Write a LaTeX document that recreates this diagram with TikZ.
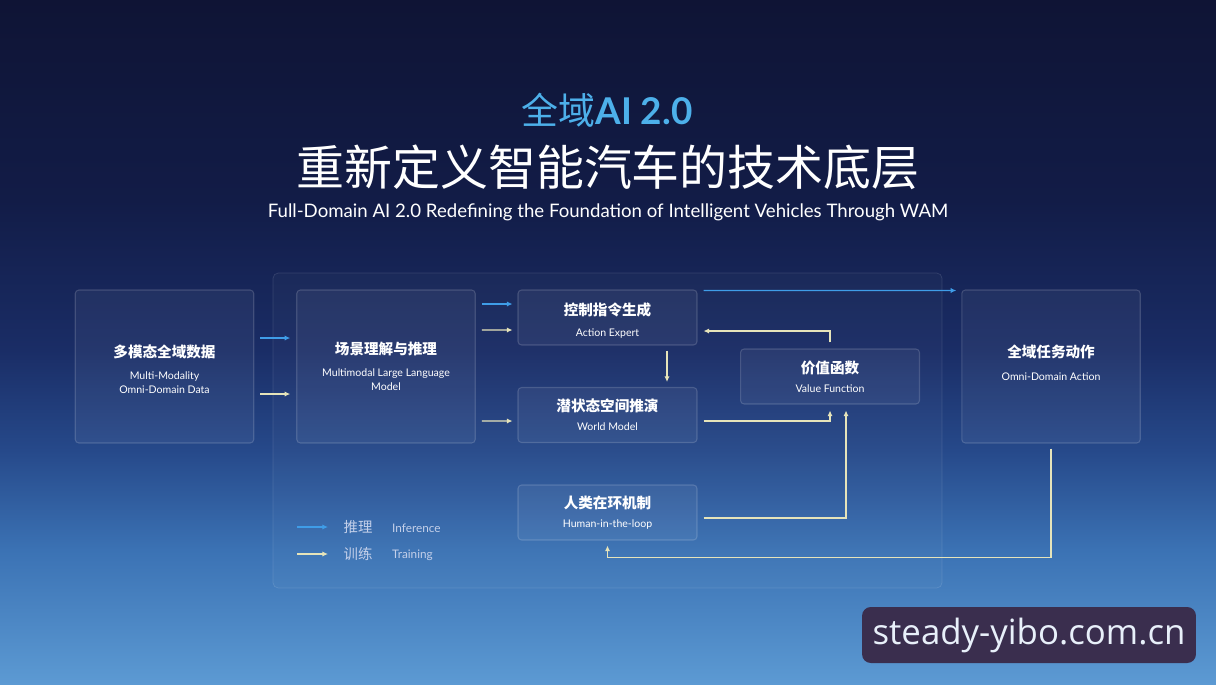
\documentclass[tikz,border=0pt]{standalone}
\usepackage{fontspec}
\setmainfont{Lato}
\newfontfamily\cjk{Noto Sans CJK SC}
\newfontfamily\sitefont{Open Sans}
\usetikzlibrary{arrows.meta,calc}

\definecolor{bgtop}{HTML}{0F1435}
\definecolor{bgupper}{HTML}{121C47}
\definecolor{bghigh}{HTML}{1A2D66}
\definecolor{bgmid}{HTML}{26498A}
\definecolor{bglow}{HTML}{3B72B4}
\definecolor{bgbot}{HTML}{5C9AD3}
\definecolor{titleblue}{HTML}{4DB0EA}
\definecolor{infblue}{HTML}{3F9DE8}
\definecolor{trcream}{HTML}{E6E4BA}
\definecolor{legtext}{HTML}{C4D0EA}
\definecolor{sitebg}{HTML}{3A2E4E}
\definecolor{sitetext}{HTML}{E8F0FA}

\pgfdeclareverticalshading{bgshade}{100bp}{color(0bp)=(bgbot); color(25bp)=(bgbot);
  color(34.8bp)=(bglow); color(42.1bp)=(bgmid); color(49.4bp)=(bghigh);
  color(60.4bp)=(bgupper); color(75bp)=(bgtop); color(100bp)=(bgtop)}

\tikzset{
  box/.style={draw=white, draw opacity=0.16, fill=white, fill opacity=0.05,
    text opacity=1, text=white, rounded corners=2pt, line width=0.6pt,
    align=center, inner sep=0pt, font=\fontsize{6}{8}\selectfont},
  bigbox/.style={box, minimum width=3.57cm, minimum height=3.06cm},
  smallbox/.style={box, minimum width=3.58cm, minimum height=1.1cm},
  infer/.style={draw=infblue, line width=0.75pt, -{Latex[length=3.2pt,width=3pt]}},
  train/.style={draw=trcream, line width=0.75pt, -{Latex[length=3.2pt,width=3pt]}},
  legcn/.style={text=legtext, font=\cjk\fontsize{8.2}{10}\selectfont},
  legen/.style={text=legtext, font=\fontsize{6.7}{8}\selectfont, anchor=west}
}
\newcommand{\cnhead}[1]{{\cjk\bfseries\fontsize{8.3}{10}\selectfont #1}}

\begin{document}
\begin{tikzpicture}[x=0.02cm,y=-0.02cm]
    \useasboundingbox (0,0) rectangle (1216,684);
    \shade[shading=bgshade] (0,0) rectangle (1216,684);

    % header
    \node[text=titleblue, font=\fontsize{21}{24}\selectfont] (kicker) at (607,110) {{\cjk 全域}\textbf{AI 2.0}};
    \node[text=white, font=\cjk\fontsize{27.3}{30}\selectfont] (title) at (608,167) {重新定义智能汽车的技术底层};
    \node[text=white, font=\fontsize{10.6}{12}\selectfont] (subtitle) at (608,212) {Full-Domain AI 2.0 Redefining the Foundation of Intelligent Vehicles Through WAM};

    % inner frame
    \draw[draw=white, draw opacity=0.12, fill=white, fill opacity=0.025, rounded corners=3pt] (273,273) rectangle (942,588);

    % blocks
    \node[bigbox] (data) at (164.5,366.5) {\rule{0pt}{10.7pt}\cnhead{多模态全域数据}\\[4.5pt]Multi-Modality\\Omni-Domain Data};
    \node[bigbox] (mllm) at (386,366.5) {\cnhead{场景理解与推理}\\[4.5pt]Multimodal Large Language\\Model};
    \node[smallbox] (act) at (607.5,317.5) {\rule{0pt}{10.7pt}\cnhead{控制指令生成}\\[3.5pt]Action Expert};
    \node[smallbox] (world) at (607.5,415) {\cnhead{潜状态空间推演}\\[3pt]World Model};
    \node[smallbox] (value) at (830,376.5) {\cnhead{价值函数}\\[3pt]Value Function};
    \node[smallbox] (human) at (607.5,512.5) {\cnhead{人类在环机制}\\[3pt]Human-in-the-loop};
    \node[bigbox] (omni) at (1051,366.5) {\cnhead{全域任务动作}\\[5pt]Omni-Domain Action\\[-3.4pt]\mbox{}};

    % connectors
    \draw[infer] ($(data.east)+(6,-28.5)$) -- ($(mllm.west)+(-6,-28.5)$);
    \draw[train] ($(data.east)+(6,27.5)$) -- ($(mllm.west)+(-6,27.5)$);
    \draw[infer] ($(mllm.east)+(6,-62.5)$) -- ($(act.west)+(-5,-13.5)$);
    \draw[train] ($(mllm.east)+(6,-36.5)$) -- ($(act.west)+(-5,12.5)$);
    \draw[train] ($(mllm.east)+(6,54.5)$) -- ($(world.west)+(-5,6)$);
    \draw[infer] ($(act.north east)+(6,1)$) -- ($(omni.north west)+(-5,1)$);
    \draw[train] ($(act.south)+(59.5,5)$) -- ($(world.north)+(59.5,-5)$);
    \draw[train] ($(value.north)+(0,-6)$) |- ($(act.east)+(6,13.5)$);
    \draw[train] ($(world.east)+(6,6)$) -| ($(value.south)+(0,6)$);
    \draw[train] ($(human.east)+(6,5.5)$) -| ($(value.south)+(16,6)$);
    \draw[train] ($(omni.south)+(0,5)$) |- ($(human.south)+(0,17)$) -- ($(human.south)+(0,5)$);

    % legend
    \coordinate (infA) at (297,527);
    \coordinate (infB) at (328,527);
    \coordinate (trA) at (297,554);
    \coordinate (trB) at (328,554);
    \draw[infer] (infA) -- (infB);
    \draw[train] (trA) -- (trB);
    \node[legcn] (infcn) at (358,527) {推理};
    \node[legen] (infen) at (386,528) {Inference};
    \node[legcn] (trcn) at (358,554) {训练};
    \node[legen] (tren) at (386,555) {Training};

    % site mark
    \node[fill=sitebg, rounded corners=5pt, minimum width=6.68cm, minimum height=1.12cm,
      text=sitetext, font=\sitefont\fontsize{19.8}{22}\selectfont] (site) at (1029,635) {steady-yibo.com.cn};
\end{tikzpicture}
\end{document}
